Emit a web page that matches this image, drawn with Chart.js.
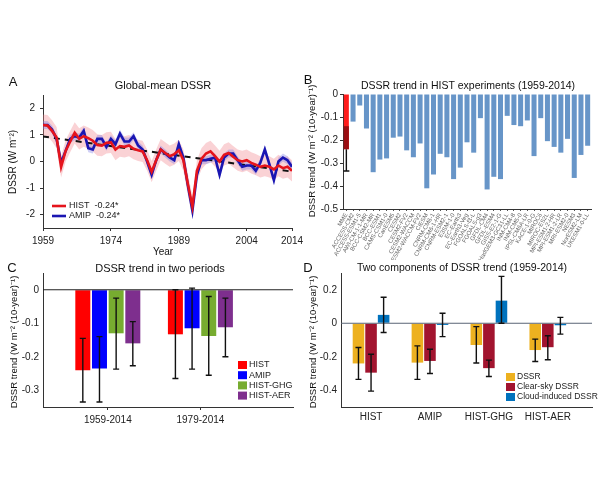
<!DOCTYPE html>
<html>
<head>
<meta charset="utf-8">
<script src="https://cdn.jsdelivr.net/npm/chart.js@4.4.1/dist/chart.umd.min.js"></script>
<style>
  body { margin: 0; background: #fff; }
  #wrap { position: relative; width: 600px; height: 500px; background: #fff; overflow: hidden; }
  canvas { position: absolute; }
</style>
</head>
<body>
<div id="wrap">
  <canvas id="panelA" width="310" height="200" style="left:0;top:60px"></canvas>
  <canvas id="panelB" width="300" height="200" style="left:300px;top:60px"></canvas>
  <canvas id="panelC" width="300" height="200" style="left:0;top:255px"></canvas>
  <canvas id="panelD" width="300" height="200" style="left:300px;top:255px"></canvas>
</div>
<script>
const FONT = '"Liberation Sans", Arial, sans-serif';
Chart.defaults.font.family = FONT;
Chart.defaults.font.size = 10;
Chart.defaults.color = '#222';

// ---- panel A: global-mean DSSR anomalies, 1959-2014
const startYear = 1959;
const histMean = [
  1.37, 1.35, 1.15, 0.9, -0.2, 0.4, 0.75, 1.08, 0.85, 0.95,
  0.88, 0.78, 0.62, 0.6, 0.7, 0.72, 0.45, 0.58, 0.55, 0.6,
  0.48, 0.42, 0.38, 0.05, -0.38, 0.05, 0.45, 0.32, 0.2, 0.28,
  0.42, 0.05, -0.85, -1.7, -0.35, 0.1, 0.3, 0.38, 0.2, 0.0,
  0.25, 0.32, 0.18, 0.05, 0.0, 0.05, -0.05, -0.12, -0.2, -0.15,
  -0.2, -0.3, -0.15, -0.25, -0.2, -0.35
];
const amipMean = [
  1.37, 1.37, 1.2, 0.85, -0.05, 0.4, 0.85, 0.95, 0.9, 1.15,
  0.5, 0.45, 0.85, 0.85, 0.55, 0.85, 0.65, 1.05, 0.75, 0.75,
  0.95, 0.6, 0.45, 0.0, -0.5, 0.05, 0.45, 0.3, 0.15, 0.05,
  0.65, 0.15, -0.9, -1.85, -0.5, 0.05, 0.05, 0.1, 0.15, -0.5,
  0.15, 0.3, 0.3, 0.05, -0.2, -0.15, -0.15, -0.35, -0.05, 0.45,
  -0.1, -0.7, 0.0, 0.15, 0.05, -0.2
];
const histSpread = 0.4;
const amipSpread = 0.15;
const trendYears = [1959, 2014];
const trendValues = [0.94, -0.38];
const yearTicks = [1959, 1974, 1989, 2004, 2014];
const anomalyTicks = [-2, -1, 0, 1, 2];

// ---- panel B: trend per HIST model
const modelNames = [
  'MME', 'ACCESS-CM2', 'ACCESS-ESM1-5', 'AWI-CM-1-1-MR', 'BCC-CSM2-MR', 'BCC-ESM1',
  'CAMS-CSM1-0', 'CanESM5', 'CESM2', 'CESM2-FV2', 'CESM2-WACCM', 'CESM2-WACCM-FV2',
  'CIESM', 'CNRM-CM6-1', 'CNRM-CM6-1-HR', 'CNRM-ESM2-1', 'E3SM-1-0', 'EC-Earth3',
  'EC-Earth3-Veg', 'FGOALS-f3-L', 'FGOALS-g3', 'GFDL-CM4', 'GFDL-ESM4', 'GISS-E2-1-G',
  'HadGEM3-GC31-LL', 'INM-CM4-8', 'INM-CM5-0', 'IPSL-CM6A-LR', 'KACE-1-0-G', 'MIROC6',
  'MIROC-ES2L', 'MPI-ESM1-2-HR', 'MPI-ESM1-2-LR', 'MRI-ESM2-0', 'NESM3', 'NorESM2-LM',
  'UKESM1-0-LL'
];
const modelTrends = [
  -0.24, -0.12, -0.05, -0.15, -0.34, -0.285, -0.28, -0.19, -0.185, -0.245,
  -0.275, -0.215, -0.41, -0.35, -0.26, -0.275, -0.37, -0.32, -0.21, -0.255,
  -0.105, -0.415, -0.36, -0.37, -0.095, -0.135, -0.14, -0.115, -0.27, -0.105,
  -0.205, -0.23, -0.255, -0.195, -0.365, -0.265, -0.225
];
const mmeRange = [-0.335, -0.14];
const modelTicks = [0, -0.1, -0.2, -0.3, -0.4, -0.5];

// ---- panel C: two periods
const periods = ['1959-2014', '1979-2014'];
const periodHist = [-0.24, -0.133];
const periodAmip = [-0.235, -0.115];
const periodGhg = [-0.13, -0.138];
const periodAer = [-0.16, -0.112];
const periodHistErr = [[-0.335, -0.145], [-0.265, 0.0]];
const periodAmipErr = [[-0.335, -0.14], [-0.237, 0.005]];
const periodGhgErr = [[-0.237, -0.025], [-0.255, -0.02]];
const periodAerErr = [[-0.227, -0.095], [-0.2, -0.025]];
const periodTicks = [0, -0.1, -0.2, -0.3];

// ---- panel D: two components
const experiments = ['HIST', 'AMIP', 'HIST-GHG', 'HIST-AER'];
const compDssr = [-0.24, -0.235, -0.13, -0.16];
const compClear = [-0.295, -0.225, -0.268, -0.143];
const compCloud = [0.05, -0.01, 0.135, -0.012];
const compDssrErr = [[-0.335, -0.145], [-0.335, -0.135], [-0.237, -0.02], [-0.228, -0.095]];
const compClearErr = [[-0.405, -0.185], [-0.3, -0.155], [-0.318, -0.22], [-0.218, -0.075]];
const compCloudErr = [[-0.055, 0.155], [-0.08, 0.06], [0, 0.28], [-0.065, 0.035]];
const compTicks = [0.2, 0, -0.2, -0.4];

const TREND_LABEL = 'DSSR trend (W m\u207B\u00B2 (10-year)\u207B\u00B9)';

// fixed axis box sizes so the plot areas land where the figure has them
function boxFit(size) {
  return function (scale) {
    if (scale.isHorizontal()) scale.height = size; else scale.width = size;
    scale.paddingLeft = 0; scale.paddingRight = 0;
    scale.paddingTop = 0; scale.paddingBottom = 0;
  };
}

function fixedTicks(values) {
  return function (scale) { scale.ticks = values.map(v => ({ value: v })); };
}

function fmt(v) {
  return v === 0 ? '0' : (Number.isInteger(v) ? String(v) : v.toFixed(1));
}

function axisBase(size, ticksList, extraTicks, gridDraw) {
  return {
    afterFit: boxFit(size),
    afterBuildTicks: ticksList ? fixedTicks(ticksList) : undefined,
    border: { color: '#333', width: 1 },
    grid: { drawOnChartArea: false, drawTicks: gridDraw !== false, tickLength: 3, color: '#333', offset: false },
    ticks: Object.assign({ color: '#222', font: { size: 10 }, padding: 4, callback: fmt }, extraTicks || {})
  };
}

function text(ctx, s, x, y, o) {
  o = o || {};
  ctx.save();
  ctx.font = (o.size || 10) + 'px ' + FONT;
  ctx.fillStyle = o.color || '#111';
  ctx.textAlign = o.align || 'center';
  ctx.textBaseline = 'middle';
  ctx.translate(x, y);
  if (o.rot) ctx.rotate(o.rot);
  ctx.fillText(s, 0, 0);
  ctx.restore();
}

function drawErrors(chart) {
  const ctx = chart.ctx;
  const yScale = chart.scales.y;
  chart.data.datasets.forEach((ds, di) => {
    if (!ds.errors) return;
    const meta = chart.getDatasetMeta(di);
    meta.data.forEach((el, i) => {
      const e = ds.errors[i];
      if (!e) return;
      const y1 = yScale.getPixelForValue(e[0]);
      const y2 = yScale.getPixelForValue(e[1]);
      ctx.save();
      ctx.strokeStyle = '#111';
      ctx.lineWidth = 1.4;
      ctx.beginPath();
      ctx.moveTo(el.x, y1); ctx.lineTo(el.x, y2);
      ctx.moveTo(el.x - 3, y1); ctx.lineTo(el.x + 3, y1);
      ctx.moveTo(el.x - 3, y2); ctx.lineTo(el.x + 3, y2);
      ctx.stroke();
      ctx.restore();
    });
  });
}

function zeroLine(chart, color) {
  const ctx = chart.ctx;
  const a = chart.chartArea;
  const y = chart.scales.y.getPixelForValue(0);
  ctx.save();
  ctx.strokeStyle = color;
  ctx.lineWidth = 1;
  ctx.beginPath();
  ctx.moveTo(a.left, y); ctx.lineTo(a.right, y);
  ctx.stroke();
  ctx.restore();
}

function legendBoxes(ctx, items, x, y0, step, size) {
  items.forEach((it, i) => {
    const y = y0 + i * step;
    ctx.fillStyle = it.color;
    ctx.fillRect(x, y - 4, 9, 8);
    text(ctx, it.label, x + 11, y, { size: size, align: 'left', color: '#222' });
  });
}

const baseOptions = {
  responsive: false,
  animation: false,
  events: [],
  plugins: { legend: { display: false }, tooltip: { enabled: false }, title: { display: false } }
};

// ================= Panel A =================
const years = histMean.map((v, i) => startYear + i);
const pts = (arr, shift) => arr.map((v, i) => ({ x: years[i], y: v + shift }));

new Chart(document.getElementById('panelA'), {
  type: 'line',
  data: {
    datasets: [
      { data: pts(histMean, histSpread), borderWidth: 0, pointRadius: 0, fill: '+1', backgroundColor: 'rgba(240,125,135,0.35)', order: 4 },
      { data: pts(histMean, -histSpread), borderWidth: 0, pointRadius: 0, fill: false, order: 4 },
      { data: pts(amipMean, amipSpread), borderWidth: 0, pointRadius: 0, fill: '+1', backgroundColor: 'rgba(120,120,230,0.35)', order: 3 },
      { data: pts(amipMean, -amipSpread), borderWidth: 0, pointRadius: 0, fill: false, order: 3 },
      { data: trendYears.map((y, i) => ({ x: y, y: trendValues[i] })), borderColor: '#111', borderDash: [6, 5], borderWidth: 2, pointRadius: 0, order: 2 },
      { data: pts(amipMean, 0), borderColor: '#1a16b2', borderWidth: 2.6, pointRadius: 0, order: 1 },
      { data: pts(histMean, 0), borderColor: '#e5141c', borderWidth: 2.6, pointRadius: 0, order: 0 }
    ]
  },
  options: Object.assign({}, baseOptions, {
    layout: { padding: { top: 35, right: 18, left: 0, bottom: 0 }, autoPadding: false },
    scales: {
      x: Object.assign(axisBase(32, yearTicks, { maxRotation: 0, autoSkip: false, callback: v => String(v) }), { type: 'linear', min: 1959, max: 2014 }),
      y: Object.assign(axisBase(43, anomalyTicks, { padding: 5 }), { min: -2.5, max: 2.5 })
    }
  }),
  plugins: [{
    id: 'decorA',
    afterDraw(chart) {
      const ctx = chart.ctx;
      text(ctx, 'A', 13, 22, { size: 13 });
      text(ctx, 'Global-mean DSSR', 163, 26, { size: 11 });
      text(ctx, 'Year', 163, 192, { size: 10 });
      text(ctx, 'DSSR (W m\u207B\u00B2)', 13, 102, { size: 10, rot: -Math.PI / 2 });
      ctx.save();
      ctx.lineWidth = 2.6;
      ctx.strokeStyle = '#e5141c';
      ctx.beginPath(); ctx.moveTo(52, 146); ctx.lineTo(66, 146); ctx.stroke();
      ctx.strokeStyle = '#1a16b2';
      ctx.beginPath(); ctx.moveTo(52, 156); ctx.lineTo(66, 156); ctx.stroke();
      ctx.restore();
      text(ctx, 'HIST  -0.24*', 69, 146, { size: 9, align: 'left', color: '#222' });
      text(ctx, 'AMIP  -0.24*', 69, 156, { size: 9, align: 'left', color: '#222' });
    }
  }]
});

// ================= Panel B =================
new Chart(document.getElementById('panelB'), {
  type: 'bar',
  data: {
    labels: modelNames,
    datasets: [{
      data: modelTrends,
      backgroundColor: modelNames.map((n, i) => i === 0 ? '#ff1c1c' : '#6795c8'),
      barPercentage: 0.75,
      categoryPercentage: 1
    }]
  },
  options: Object.assign({}, baseOptions, {
    layout: { padding: { top: 34, right: 9, left: 0, bottom: 0 }, autoPadding: false },
    scales: {
      x: Object.assign(axisBase(51, null, { autoSkip: false, minRotation: 60, maxRotation: 60, font: { size: 6 }, color: '#666', padding: 1, callback: function (v) { return this.getLabelForValue(v); } }), { grid: { drawOnChartArea: false, tickLength: 2, color: '#555', offset: false } }),
      y: Object.assign(axisBase(43, modelTicks, { padding: 2 }), { min: -0.5, max: 0 })
    }
  }),
  plugins: [{
    id: 'decorB',
    afterDatasetsDraw(chart) {
      const ctx = chart.ctx;
      const el = chart.getDatasetMeta(0).data[0];
      const y = chart.scales.y;
      const yLo = y.getPixelForValue(mmeRange[0]);
      const yHi = y.getPixelForValue(mmeRange[1]);
      const yBar = y.getPixelForValue(modelTrends[0]);
      ctx.save();
      ctx.fillStyle = '#9a0d12';
      ctx.fillRect(el.x - 2.5, yHi, 5, yBar - yHi);
      ctx.strokeStyle = '#111';
      ctx.lineWidth = 1.4;
      ctx.beginPath();
      ctx.moveTo(el.x, yBar); ctx.lineTo(el.x, yLo);
      ctx.moveTo(el.x - 3, yLo); ctx.lineTo(el.x + 3, yLo);
      ctx.stroke();
      ctx.restore();
    },
    afterDraw(chart) {
      const ctx = chart.ctx;
      text(ctx, 'B', 8, 20, { size: 13 });
      text(ctx, 'DSSR trend in HIST experiments (1959-2014)', 168, 26, { size: 10.5 });
      text(ctx, TREND_LABEL, 12, 91, { size: 9.5, rot: -Math.PI / 2 });
    }
  }]
});

// ================= Panel C =================
const periodX = [1, 2];
const cPts = arr => arr.map((v, i) => ({ x: periodX[i], y: v }));
const cBar = { barPercentage: 0.9, categoryPercentage: 0.72 };

new Chart(document.getElementById('panelC'), {
  type: 'bar',
  data: {
    datasets: [
      Object.assign({ data: cPts(periodHist), backgroundColor: '#ff0000', errors: periodHistErr }, cBar),
      Object.assign({ data: cPts(periodAmip), backgroundColor: '#0000ff', errors: periodAmipErr }, cBar),
      Object.assign({ data: cPts(periodGhg), backgroundColor: '#77ac30', errors: periodGhgErr }, cBar),
      Object.assign({ data: cPts(periodAer), backgroundColor: '#7e2f8e', errors: periodAerErr }, cBar)
    ]
  },
  options: Object.assign({}, baseOptions, {
    layout: { padding: { top: 18, right: 7, left: 0, bottom: 0 }, autoPadding: false },
    scales: {
      x: Object.assign(axisBase(48, periodX, { maxRotation: 0, autoSkip: false, callback: v => periods[v - 1] }), { type: 'linear', min: 0.3, max: 3.0, offset: false }),
      y: Object.assign(axisBase(43, periodTicks, null, false), { min: -0.35, max: 0.05 })
    }
  }),
  plugins: [{
    id: 'decorC',
    afterDatasetsDraw(chart) {
      zeroLine(chart, '#222');
      drawErrors(chart);
    },
    afterDraw(chart) {
      const ctx = chart.ctx;
      text(ctx, 'C', 12, 13, { size: 13 });
      text(ctx, 'DSSR trend in two periods', 160, 14, { size: 11 });
      text(ctx, TREND_LABEL, 14, 87, { size: 9.5, rot: -Math.PI / 2 });
      legendBoxes(ctx, [
        { label: 'HIST', color: '#ff0000' },
        { label: 'AMIP', color: '#0000ff' },
        { label: 'HIST-GHG', color: '#77ac30' },
        { label: 'HIST-AER', color: '#7e2f8e' }
      ], 238, 110, 10.2, 9);
    }
  }]
});

// ================= Panel D =================
const expX = [1, 2, 3, 4];
const dPts = arr => arr.map((v, i) => ({ x: expX[i], y: v }));
const dBar = { barPercentage: 0.92, categoryPercentage: 0.64 };

new Chart(document.getElementById('panelD'), {
  type: 'bar',
  data: {
    datasets: [
      Object.assign({ data: dPts(compDssr), backgroundColor: '#edb120', errors: compDssrErr }, dBar),
      Object.assign({ data: dPts(compClear), backgroundColor: '#a2142f', errors: compClearErr }, dBar),
      Object.assign({ data: dPts(compCloud), backgroundColor: '#0072bd', errors: compCloudErr }, dBar)
    ]
  },
  options: Object.assign({}, baseOptions, {
    layout: { padding: { top: 18, right: 8, left: 0, bottom: 0 }, autoPadding: false },
    scales: {
      x: Object.assign(axisBase(48, expX, { maxRotation: 0, autoSkip: false, callback: v => experiments[v - 1] }, false), { type: 'linear', min: 0.49, max: 4.75, offset: false }),
      y: Object.assign(axisBase(41, compTicks, null, false), { min: -0.5, max: 0.3 })
    }
  }),
  plugins: [{
    id: 'decorD',
    afterDatasetsDraw(chart) {
      zeroLine(chart, '#5a6475');
      drawErrors(chart);
    },
    afterDraw(chart) {
      const ctx = chart.ctx;
      text(ctx, 'D', 8, 13, { size: 13 });
      text(ctx, 'Two components of DSSR trend (1959-2014)', 162, 13, { size: 10.5 });
      text(ctx, TREND_LABEL, 13, 87, { size: 9.5, rot: -Math.PI / 2 });
      legendBoxes(ctx, [
        { label: 'DSSR', color: '#edb120' },
        { label: 'Clear-sky DSSR', color: '#a2142f' },
        { label: 'Cloud-induced DSSR', color: '#0072bd' }
      ], 206, 122, 10, 8.5);
    }
  }]
});
</script>
</body>
</html>
